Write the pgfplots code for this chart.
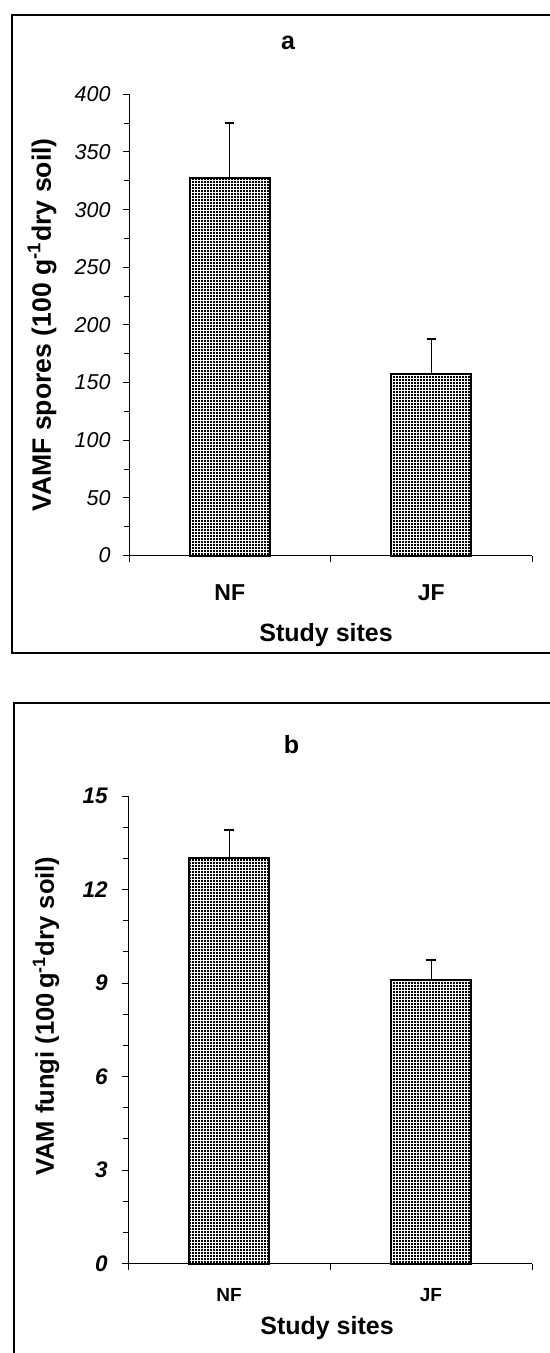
\documentclass[border=0pt]{standalone}
\usepackage{fontspec}
\setmainfont{Liberation Sans}
\setsansfont{Liberation Sans}
\usepackage{pgfplots}
\pgfplotsset{compat=1.18}
\usetikzlibrary{patterns.meta}
\tikzdeclarepattern{
  name=dotgrid,
  type=uncolored,
  bounding box={(0pt,0pt) and (1.5pt,1.5pt)},
  tile size={(1.5pt,1.5pt)},
  code={\fill (0pt,0pt) rectangle (1.25pt,1.25pt);}
}
\pgfplotsset{
  panel/.style={
    scale only axis,
    xmin=0, xmax=2,
    axis x line=bottom, axis y line=left,
    axis line style={-, line width=0.5pt},
    tick align=outside,
    tick style={black, line width=0.5pt},
    major tick length=3pt, minor tick length=2.5pt,
    xtick={0,1,2}, xticklabels={},
    extra x ticks={0.5,1.5},
    extra x tick labels={NF,JF},
    extra x tick style={major tick length=0pt},
    /pgf/number format/assume math mode=true,
    ybar, bar width=40pt,
    clip=false,
  },
  bars/.style={
    draw=black, line width=1pt, pattern=dotgrid, pattern color=black,
    error bars/.cd, y dir=plus, y explicit,
    error mark=|,
    error mark options={line width=1pt, mark size=2.3pt, black},
    error bar style={line width=0.5pt, black},
  },
}
\begin{document}
\begin{tikzpicture}
\path[use as bounding box] (0pt,0pt) rectangle (275pt,-676.5pt);
% panel borders
\draw[line width=1pt] (276pt,-7.5pt) -- (6pt,-7.5pt) -- (6pt,-326.5pt) -- (276pt,-326.5pt);
\draw[line width=1pt] (276pt,-351.35pt) -- (7pt,-351.35pt) -- (7pt,-680pt);
% titles
\node[anchor=base, font=\fontsize{12.5}{14}\selectfont\bfseries] at (144pt,-25pt) {a};
\node[anchor=base, font=\fontsize{12.5}{14}\selectfont\bfseries] at (145.8pt,-376.6pt) {b};

\begin{axis}[panel,
  at={(64.5pt,-277.75pt)}, anchor=south west,
  width=201.5pt, height=230.6pt,
  ymin=0, ymax=400,
  ytick={0,50,...,400}, minor y tick num=1,
  yticklabel style={font=\fontsize{10.75}{12}\selectfont\itshape, anchor=east, inner sep=0pt, xshift=-6pt},
  extra x tick style={tick label style={font=\fontsize{11.5}{13}\selectfont\bfseries, anchor=base, inner sep=0pt, yshift=-22.25pt}},
  ylabel={VAMF spores (100 g\textsuperscript{-1}dry soil)},
  ylabel style={font=\fontsize{13.3}{16}\selectfont\bfseries, at={(axis description cs:-0.216,0.5)}, anchor=center, rotate=0},
  xlabel={Study sites},
  xlabel style={font=\fontsize{12.5}{14}\selectfont\bfseries, at={(axis description cs:0.489,0)}, anchor=base, yshift=-43pt},
]
\addplot[bars] coordinates {(0.5,327) +- (0,48) (1.5,157) +- (0,31)};
\end{axis}

\begin{axis}[panel,
  at={(64pt,-631.75pt)}, anchor=south west,
  width=202pt, height=233.75pt,
  ymin=0, ymax=15,
  ytick={0,3,...,15}, minor y tick num=2,
  yticklabel style={font=\fontsize{11.25}{13}\selectfont\bfseries\itshape, anchor=east, inner sep=0pt, xshift=-7pt},
  extra x tick style={tick label style={font=\fontsize{9.5}{11}\selectfont\bfseries, anchor=base, inner sep=0pt, yshift=-19pt}},
  ylabel={VAM fungi (100\,g\textsuperscript{-1}dry soil)},
  ylabel style={font=\fontsize{12.8}{15}\selectfont\bfseries, at={(axis description cs:-0.203,0.529)}, anchor=center, rotate=0},
  xlabel={Study sites},
  xlabel style={font=\fontsize{12.5}{14}\selectfont\bfseries, at={(axis description cs:0.4926,0)}, anchor=base, yshift=-35.5pt},
]
\addplot[bars] coordinates {(0.5,13.0) +- (0,0.9) (1.5,9.1) +- (0,0.65)};
\end{axis}
\end{tikzpicture}
\end{document}
